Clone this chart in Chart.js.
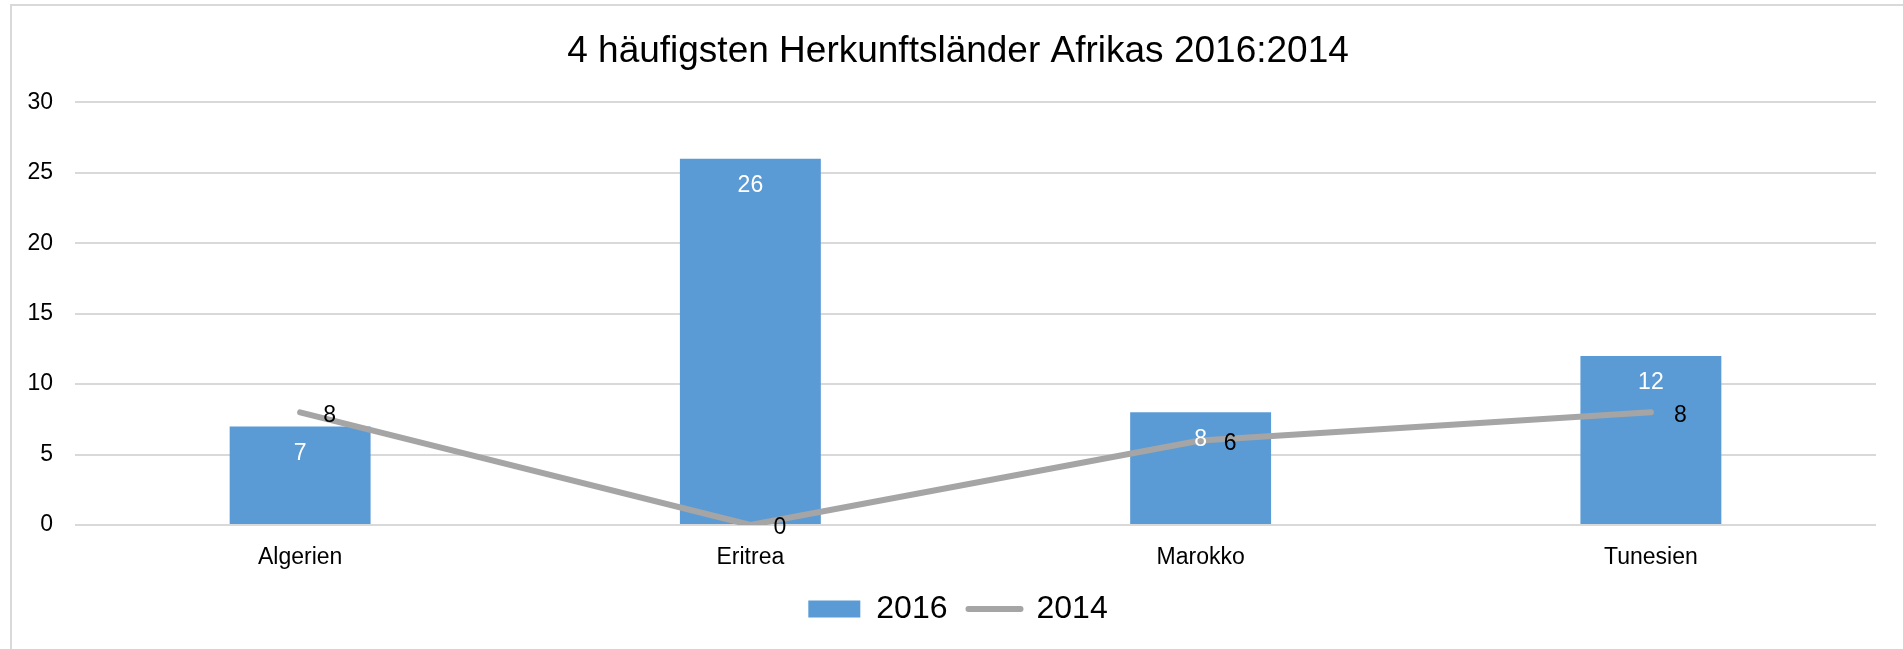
<!DOCTYPE html>
<html lang="de">
<head>
<meta charset="utf-8">
<title>Herkunftsländer Afrikas</title>
<script src="https://cdn.jsdelivr.net/npm/chart.js@4.4.1/dist/chart.umd.min.js"></script>
<style>
  html, body { margin: 0; padding: 0; background: #fff; overflow: hidden; }
  .frame {
    position: absolute; left: 10px; top: 4px; width: 1920px; height: 700px;
    border-left: 2px solid #d9d9d9; border-top: 2px solid #d9d9d9;
  }
  #chart { position: absolute; left: 0; top: 0; }
</style>
</head>
<body>
<div class="frame"></div>
<canvas id="chart" width="1903" height="649"></canvas>
<script>
const COUNTRIES = ['Algerien', 'Eritrea', 'Marokko', 'Tunesien'];
const VALUES_2016 = [7, 26, 8, 12];
const VALUES_2014 = [8, 0, 6, 8];
const Y_TICKS = [0, 5, 10, 15, 20, 25, 30];

const FONT = "'Liberation Sans', Arial, sans-serif";
const BLUE = '#5b9bd5';
const GREY = '#a5a5a5';

// value labels: white inside the top of each bar, black to the right of each line point
const valueLabels = {
  id: 'valueLabels',
  afterDatasetsDraw(chart) {
    const { ctx } = chart;
    ctx.save();
    ctx.font = `23px ${FONT}`;
    ctx.textBaseline = 'middle';
    chart.data.datasets.forEach((ds, i) => {
      const meta = chart.getDatasetMeta(i);
      meta.data.forEach((el, j) => {
        const v = ds.data[j];
        if (ds.type === 'bar') {
          ctx.fillStyle = '#fff';
          ctx.textAlign = 'center';
          ctx.fillText(v, el.x, el.y + 27);
        } else {
          ctx.fillStyle = '#000';
          ctx.textAlign = 'left';
          ctx.fillText(v, el.x + 23, el.y + 3);
        }
      });
    });
    ctx.restore();
  }
};

// the left padding pushes title + legend right; let the y labels use that space too
const widenYAxis = {
  id: 'widenYAxis',
  afterLayout(chart) { chart.scales.y.left = 0; },
};

new Chart(document.getElementById('chart'), {
  data: {
    labels: COUNTRIES,
    datasets: [
      {
        type: 'bar', label: '2016', data: VALUES_2016, order: 1,
        backgroundColor: BLUE, borderWidth: 0,
        barPercentage: 0.626, categoryPercentage: 0.5,
      },
      {
        type: 'line', label: '2014', data: VALUES_2014, order: 0,
        borderColor: GREY, backgroundColor: GREY, borderWidth: 6,
        borderCapStyle: 'round', borderJoinStyle: 'round',
        pointRadius: 0, pointStyle: 'line', tension: 0,
      },
    ],
  },
  options: {
    responsive: false,
    animation: false,
    layout: { padding: { left: 40, right: 27, top: 0, bottom: 14 } },
    plugins: {
      tooltip: { enabled: false },
      title: {
        display: true,
        text: '4 häufigsten Herkunftsländer Afrikas 2016:2014',
        color: '#000',
        font: { family: FONT, size: 37, weight: 'normal' },
        padding: { top: 30, bottom: 28 },
      },
      legend: {
        position: 'bottom',
        labels: {
          color: '#000',
          font: { family: FONT, size: 32 },
          usePointStyle: true,
          pointStyleWidth: 52,
          boxHeight: 17,
          padding: 21,
          sort: (a, b) => a.datasetIndex - b.datasetIndex,
          generateLabels(chart) {
            return chart.data.datasets.map((ds, i) => ({
              text: ds.label,
              datasetIndex: i,
              fillStyle: ds.type === 'bar' ? BLUE : GREY,
              strokeStyle: ds.type === 'bar' ? BLUE : GREY,
              lineWidth: ds.type === 'bar' ? 0 : 6,
              lineCap: 'round',
              pointStyle: ds.type === 'bar' ? 'rect' : 'line',
              fontColor: '#000',
              hidden: false,
            }));
          },
        },
      },
    },
    scales: {
      x: {
        grid: { display: false, drawTicks: false },
        border: { display: false },
        ticks: { color: '#000', font: { family: FONT, size: 23 }, padding: 19 },
        afterFit(scale) { scale.height = 47; },
      },
      y: {
        min: 0, max: 30,
        afterBuildTicks(scale) { scale.ticks = Y_TICKS.map(v => ({ value: v })); },
        grid: { color: '#d9d9d9', lineWidth: 2, drawTicks: false },
        border: { display: false },
        ticks: { color: '#000', font: { family: FONT, size: 23 }, padding: 22 },
        afterFit(scale) { scale.width = 35; },
      },
    },
  },
  plugins: [valueLabels, widenYAxis],
});
</script>
</body>
</html>
